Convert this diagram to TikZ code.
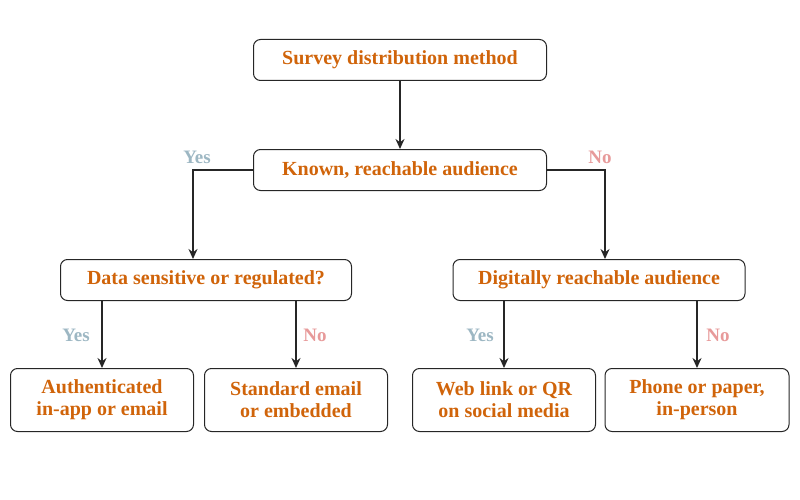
\documentclass[tikz,border=0pt]{standalone}
\usepackage{fontspec}
\setmainfont{Liberation Serif}
\usetikzlibrary{arrows.meta}
\definecolor{txt}{HTML}{D0640A}
\definecolor{yes}{HTML}{9DB7C3}
\definecolor{no}{HTML}{E79A9A}
\begin{document}
\begin{tikzpicture}[x=1pt,y=-1pt,
 box/.style={draw=black!85,rounded corners=7pt,line width=1pt,text=txt,font=\fontsize{20}{22}\selectfont\bfseries,align=center,inner sep=0pt},
 arr/.style={-{Stealth[length=10pt,width=9pt]},line width=1.5pt,black!85},
 yl/.style={text=yes,font=\fontsize{19}{21}\selectfont\bfseries},
 nl/.style={text=no,font=\fontsize{19}{21}\selectfont\bfseries}]
\useasboundingbox (0,0) rectangle (800,500);
\node[box,minimum width=293pt,minimum height=41pt] (top) at (400,60) {Survey distribution method};
\node[box,minimum width=293pt,minimum height=41pt] (known) at (400,170) {Known, reachable audience};
\node[box,minimum width=291pt,minimum height=41pt] (data) at (206,280) {Data sensitive or regulated?};
\node[box,minimum width=292pt,minimum height=41pt] (dig) at (599,280) {Digitally reachable audience};
\node[box,minimum width=183pt,minimum height=63pt] (l1) at (102,400) {Authenticated\\in-app or email};
\node[box,minimum width=183pt,minimum height=63pt] (l2) at (296,400) {Standard email\\or embedded};
\node[box,minimum width=183pt,minimum height=63pt] (l3) at (504,400) {Web link or QR\\on social media};
\node[box,minimum width=184pt,minimum height=63pt] (l4) at (697,400) {Phone or paper,\\in-person};
\draw[arr] (top) -- (known);
\draw[arr] (known.west) -| (data.north -| 193,0);
\draw[arr] (known.east) -| (dig.north -| 605,0);
\draw[arr] (data.south -| l1.north) -- (l1.north);
\draw[arr] (data.south -| l2.north) -- (l2.north);
\draw[arr] (dig.south -| l3.north) -- (l3.north);
\draw[arr] (dig.south -| l4.north) -- (l4.north);
\node[yl] (y1) at (197,157) {Yes};
\node[nl] (n1) at (600,157) {No};
\node[yl] (y2) at (76,335) {Yes};
\node[nl] (n2) at (315,335) {No};
\node[yl] (y3) at (480,335) {Yes};
\node[nl] (n3) at (718,335) {No};
\end{tikzpicture}
\end{document}
